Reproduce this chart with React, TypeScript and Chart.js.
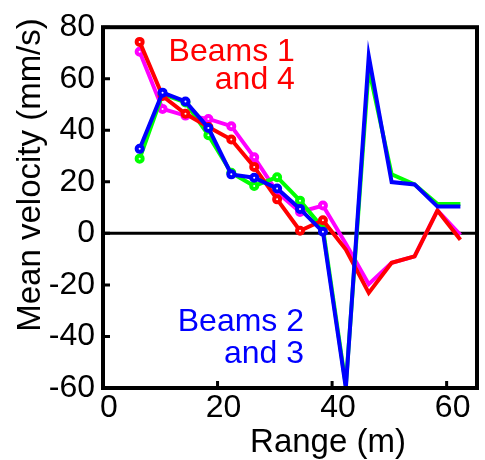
import React, { useEffect, useRef } from "react";
import { Chart, registerables } from "chart.js";

Chart.register(...registerables);

// Range bins (m)
const rangeM = [6.4, 10.4, 14.4, 18.4, 22.4, 26.4, 30.4, 34.4, 38.4, 42.4, 46.4, 50.4, 54.4, 58.4, 62.4];
// Mean velocity (mm/s) per beam
const beam1Red = [74.3, 53.3, 46.4, 41.3, 36.4, 25.8, 13.2, 1.0, 5.1, -6.3, -23.1, -11.4, -8.9, 8.9, -2.5];
const beam4Magenta = [70.5, 48.3, 45.7, 44.4, 41.6, 29.5, 16.0, 8.3, 10.8, -4.0, -19.7, -11.4, -8.9, 8.9, -0.6];
const beam2Green = [29.0, 54.0, 50.8, 38.1, 23.5, 18.4, 21.8, 12.7, 2.0, -59.0, 64.0, 22.9, 19.0, 11.4, 11.4];
const beam3Blue = [32.8, 54.6, 51.2, 40.9, 22.9, 21.6, 17.4, 9.5, 0.6, -60.0, 68.8, 19.9, 19.0, 10.4, 10.4];
// Number of leading bins drawn with circle markers
const markedBins = 9;

const xTicks = [0, 20, 40, 60];
const yTicks = [-60, -40, -20, 0, 20, 40, 60, 80];
const xTitle = "Range (m)";
const yTitle = "Mean velocity (mm/s)";
const labelTop = ["Beams 1", "and 4"];
const labelBottom = ["Beams 2", "and 3"];

const FONT = "'Liberation Sans', Arial, Helvetica, sans-serif";

const toPts = (ys: number[]) => ys.map((v, i) => ({ x: rangeM[i], y: v }));

const decorPlugin = {
  id: "decor",
  beforeDatasetsDraw(chart: any) {
    const { ctx, chartArea: a, scales } = chart;
    const y0 = scales.y.getPixelForValue(0);
    ctx.save();
    ctx.strokeStyle = "#000";
    ctx.lineWidth = 3;
    ctx.beginPath();
    ctx.moveTo(a.left, y0);
    ctx.lineTo(a.right, y0);
    ctx.stroke();
    ctx.restore();
  },
  afterDatasetsDraw(chart: any) {
    const { ctx, scales } = chart;
    const { x, y } = scales;
    ctx.save();
    ctx.font = `32px ${FONT}`;
    ctx.textAlign = "right";
    ctx.textBaseline = "alphabetic";
    ctx.fillStyle = "#ff0000";
    ctx.fillText(labelTop[0], x.getPixelForValue(33.5), y.getPixelForValue(66.7));
    ctx.fillText(labelTop[1], x.getPixelForValue(33.5), y.getPixelForValue(56.0));
    ctx.fillStyle = "#0000ff";
    ctx.fillText(labelBottom[0], x.getPixelForValue(35.1), y.getPixelForValue(-37.8));
    ctx.fillText(labelBottom[1], x.getPixelForValue(35.1), y.getPixelForValue(-50.2));
    ctx.restore();
  },
  afterDraw(chart: any) {
    const { ctx, chartArea: a, scales } = chart;
    const { x, y } = scales;
    ctx.save();
    ctx.strokeStyle = "#000";
    ctx.lineWidth = 3;
    // inward ticks
    ctx.beginPath();
    yTicks.forEach((v) => {
      const py = y.getPixelForValue(v);
      ctx.moveTo(a.left, py);
      ctx.lineTo(a.left + 7, py);
    });
    xTicks.forEach((v) => {
      const px = x.getPixelForValue(v);
      ctx.moveTo(px, a.bottom);
      ctx.lineTo(px, a.bottom - 7);
    });
    ctx.stroke();
    // frame
    ctx.lineWidth = 4;
    ctx.strokeRect(a.left, a.top, a.right - a.left, a.bottom - a.top);
    // axis titles
    ctx.fillStyle = "#000";
    ctx.font = `33px ${FONT}`;
    ctx.textAlign = "center";
    ctx.textBaseline = "alphabetic";
    ctx.fillText(xTitle, 328, 452);
    ctx.translate(40, 175);
    ctx.rotate(-Math.PI / 2);
    ctx.fillText(yTitle, 0, 0);
    ctx.restore();
  },
};

export default function App() {
  const ref = useRef<HTMLCanvasElement | null>(null);
  useEffect(() => {
    document.body.style.margin = "0";
    const canvas = ref.current!;
    const common = {
      borderWidth: 4,
      pointRadius: (c: any) => (c.dataIndex < markedBins ? 3 : 0),
      pointBorderWidth: 4,
      pointBackgroundColor: "#ffffff",
      tension: 0,
      fill: false,
    };
    const chart = new Chart(canvas, {
      type: "line",
      data: {
        datasets: [
          { label: "Beam 3", data: toPts(beam3Blue), borderColor: "#0000ff", pointBorderColor: "#0000ff", ...common },
          { label: "Beam 1", data: toPts(beam1Red), borderColor: "#ff0000", pointBorderColor: "#ff0000", ...common },
          { label: "Beam 2", data: toPts(beam2Green), borderColor: "#00ff00", pointBorderColor: "#00ff00", ...common },
          { label: "Beam 4", data: toPts(beam4Magenta), borderColor: "#ff00ff", pointBorderColor: "#ff00ff", ...common },
        ],
      },
      options: {
        responsive: false,
        animation: false,
        devicePixelRatio: 1,
        layout: { padding: { top: 20.5, right: 3, left: 0, bottom: 0 } },
        plugins: { legend: { display: false }, tooltip: { enabled: false } },
        scales: {
          x: {
            type: "linear",
            position: "bottom",
            min: 0,
            max: 65.3,
            grid: { display: false, drawTicks: false },
            border: { display: false },
            afterBuildTicks: (s: any) => {
              s.ticks = xTicks.map((v) => ({ value: v }));
            },
            afterFit: (s: any) => {
              s.height = 72;
            },
            ticks: {
              font: { family: FONT, size: 32 },
              color: "#000",
              padding: 1,
              labelOffset: 6,
              maxRotation: 0,
              autoSkip: false,
            },
          },
          y: {
            type: "linear",
            min: -60,
            max: 80,
            grid: { display: false, drawTicks: false },
            border: { display: false },
            afterBuildTicks: (s: any) => {
              s.ticks = yTicks.map((v) => ({ value: v }));
            },
            afterFit: (s: any) => {
              s.width = 103;
            },
            ticks: {
              font: { family: FONT, size: 32 },
              color: "#000",
              padding: 8,
              autoSkip: false,
            },
          },
        },
      },
      plugins: [decorPlugin],
    } as any);
    return () => chart.destroy();
  }, []);
  return <canvas ref={ref} width={485} height={460} style={{ display: "block" }} />;
}
